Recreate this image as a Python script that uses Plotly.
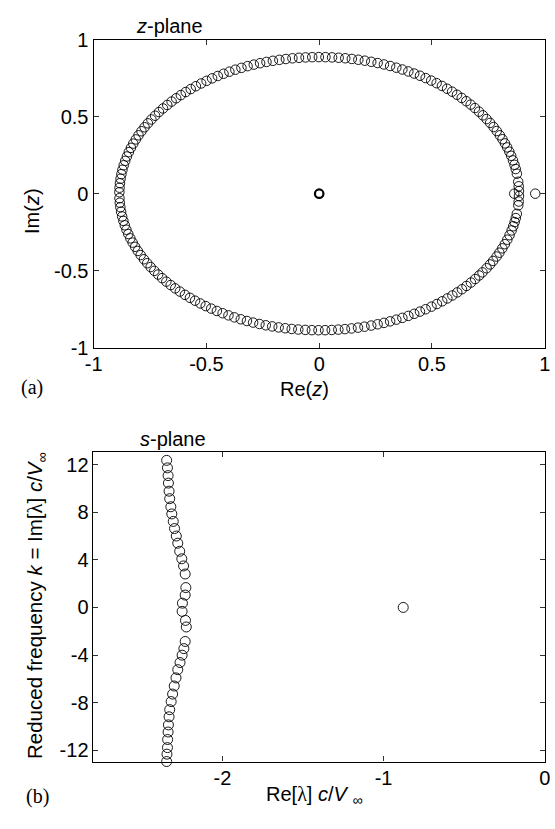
import numpy as np
import plotly.graph_objects as go

W, H = 555, 829

# ---------------- data: z-plane (polar readings) ----------------
z_ring_radius = 0.886
z_ring_arg_deg = [
    1.1, 3.1, 5.0,
    8.4, 10.4, 12.2, 14.1, 16.1, 17.9, 19.8, 21.6, 23.5, 25.3, 27.3, 29.2, 31.2, 33.1, 35.0, 36.9,
    38.8, 40.7, 42.6, 44.5, 46.4, 48.3, 50.2, 52.1, 54.0, 55.9, 57.8, 59.7, 61.6, 63.5, 65.4, 67.3,
    69.2, 71.1, 73.0, 74.9, 76.8, 78.7, 80.6, 82.5, 84.4, 86.3, 88.2, 90.1, 92.0, 93.9, 95.8, 97.7,
    99.6, 101.5, 103.4, 105.3, 107.2, 109.1, 111.0, 112.9, 114.8, 116.7, 118.6, 120.5, 122.4, 124.3,
    126.2, 128.1, 130.0, 131.9, 133.8, 135.7, 137.6, 139.5, 141.4, 143.3, 145.2, 147.1, 149.0, 150.9,
    152.8, 154.7, 156.6, 158.5, 160.4, 162.3, 164.2, 166.1, 168.0, 169.9, 171.8, 173.7, 175.6, 177.5,
    179.4,
    -1.0, -3.3, -4.9,
    -8.5, -10.3, -12.0, -13.8, -15.6, -17.7, -19.7, -21.7, -23.6, -25.6, -27.4, -29.5, -31.2, -33.1,
    -35.2, -36.8, -38.7, -40.6, -42.5, -44.4, -46.3, -48.2, -50.1, -52.0, -53.9, -55.8, -57.8, -59.7,
    -61.6, -63.5, -65.4, -67.3, -69.2, -71.1, -73.0, -74.9, -76.9, -78.8, -80.7, -82.6, -84.5, -86.4,
    -88.3, -90.2, -92.1, -94.0, -96.0, -97.9, -99.8, -101.7, -103.6, -105.5, -107.4, -109.3, -111.2,
    -113.1, -115.1, -117.0, -118.9, -120.8, -122.7, -124.6, -126.5, -128.4, -130.3, -132.2, -134.2,
    -136.1, -138.0, -139.9, -141.8, -143.7, -145.6, -147.5, -149.4, -151.3, -153.3, -155.2, -157.1,
    -159.0, -160.9, -162.8, -164.7, -166.6, -168.5, -170.4, -172.4, -174.3, -176.2, -178.1,
]
z_real_re = [0.865, 0.958]
z_real_im = [0.0, 0.0]
z_origin_re = [0.0]
z_origin_im = [0.0]

# ---------------- data: s-plane ----------------
s_re = [
    -2.346, -2.341, -2.337, -2.335, -2.331, -2.327, -2.320, -2.314, -2.305, -2.297, -2.286, -2.277,
    -2.265, -2.252, -2.241, -2.231,
    -2.227, -2.231, -2.248, -2.250, -2.229, -2.224,
    -2.231, -2.239, -2.250, -2.263, -2.277, -2.288, -2.299, -2.309, -2.318, -2.327, -2.331, -2.335,
    -2.337, -2.340, -2.341, -2.344, -2.346,
]
s_im = [
    12.36, 11.73, 11.08, 10.45, 9.77, 9.14, 8.46, 7.86, 7.23, 6.63, 6.00, 5.40, 4.72, 4.09, 3.49, 2.81,
    1.67, 1.04, 0.36, -0.33, -1.09, -1.64,
    -2.86, -3.46, -4.01, -4.63, -5.23, -5.92, -6.60, -7.28, -7.91, -8.59, -9.19, -9.87, -10.47,
    -11.10, -11.78, -12.33, -12.95,
]
s_real_re = [-0.878]
s_real_im = [0.0]

z_xticks = [-1, -0.5, 0, 0.5, 1]
z_xticklabels = ["-1", "-0.5", "0", "0.5", "1"]
z_yticks = [-1, -0.5, 0, 0.5, 1]
z_yticklabels = ["-1", "-0.5", "0", "0.5", "1"]
s_xticks = [-2, -1, 0]
s_xticklabels = ["-2", "-1", "0"]
s_yticks = [-12, -8, -4, 0, 4, 8, 12]
s_yticklabels = ["-12", "-8", "-4", "0", "4", "8", "12"]

# ---------------- figure ----------------
ang = np.deg2rad(np.array(z_ring_arg_deg))
z_re = z_ring_radius * np.cos(ang)
z_im = z_ring_radius * np.sin(ang)

SANS = "Liberation Sans, Arial, sans-serif"
SERIF = "Liberation Serif, Times New Roman, serif"
FS = 20

mk_top = dict(symbol="circle-open", size=9.5, color="black", line=dict(width=0.9, color="black"))
mk_bot = dict(symbol="circle-open", size=10, color="black", line=dict(width=0.9, color="black"))

fig = go.Figure()
fig.add_trace(go.Scatter(x=z_re, y=z_im, mode="markers", marker=mk_top, xaxis="x", yaxis="y",
                         cliponaxis=False, showlegend=False))
fig.add_trace(go.Scatter(x=z_real_re, y=z_real_im, mode="markers", marker=mk_top, xaxis="x", yaxis="y",
                         cliponaxis=False, showlegend=False))
fig.add_trace(go.Scatter(x=z_origin_re, y=z_origin_im, mode="markers",
                         marker=dict(symbol="circle-open", size=8.5, color="black",
                                     line=dict(width=2.2, color="black")),
                         xaxis="x", yaxis="y", showlegend=False))
fig.add_trace(go.Scatter(x=s_re, y=s_im, mode="markers", marker=mk_bot, xaxis="x2", yaxis="y2",
                         cliponaxis=False, showlegend=False))
fig.add_trace(go.Scatter(x=s_real_re, y=s_real_im, mode="markers", marker=mk_bot, xaxis="x2", yaxis="y2",
                         cliponaxis=False, showlegend=False))

def ax(**kw):
    d = dict(showline=True, linecolor="black", linewidth=1.3, mirror="ticks", ticks="inside",
             ticklen=5, tickwidth=1, tickcolor="#333333", showgrid=False, zeroline=False,
             ticklabeloverflow="allow",
             tickfont=dict(family=SANS, size=FS, color="black"), fixedrange=True)
    d.update(kw)
    return d

x1dom = [87 / W, 550.6 / W]
y1dom = [(H - 346) / H, (H - 29.3) / H]
x2dom = [86 / W, 550.6 / W]
y2dom = [(H - 771) / H, (H - 453.3) / H]

fig.update_layout(
    width=W, height=H, margin=dict(l=0, r=0, t=0, b=0),
    paper_bgcolor="white", plot_bgcolor="white",
    xaxis=ax(domain=x1dom, range=[-1, 1], tickvals=z_xticks, ticktext=z_xticklabels,
             anchor="y", ticklabelstandoff=-2),
    yaxis=ax(domain=y1dom, range=[-1, 1], tickvals=z_yticks, ticktext=z_yticklabels,
             anchor="x", ticklabelstandoff=0),
    xaxis2=ax(domain=x2dom, range=[-2.805, 0], tickvals=s_xticks, ticktext=s_xticklabels,
              anchor="y2", ticklabelstandoff=-2),
    yaxis2=ax(domain=y2dom, range=[-12.95, 13.04], tickvals=s_yticks, ticktext=s_yticklabels,
              anchor="x2", ticklabelstandoff=-1),
)

def ann(text, px, py, family=SANS, size=FS, angle=0):
    fig.add_annotation(text=text, x=px / W, y=1 - py / H, xref="paper", yref="paper",
                       xanchor="center", yanchor="middle", showarrow=False, textangle=angle,
                       font=dict(family=family, size=size, color="black"))

ann("<i>z</i>-plane", 165, 15)
ann("<i>s</i>-plane", 169, 440)
ann("Re(<i>z</i>)", 304, 388)
ann("Im(<i>z</i>)", 23, 205, angle=-90)
ann("(a)", 24, 387, family=SERIF)
ann("(b)", 29, 807, family=SERIF)
ann("Re[<span style=\"font-family:Liberation Serif\">λ</span>] <i>c</i>/<i>V</i> <sub>∞</sub>", 313, 806)
ann("Reduced frequency <i>k</i> = Im[<span style=\"font-family:Liberation Serif\">λ</span>] <i>c</i>/<i>V</i><sub>∞</sub>",
    28, 611, size=20.5, angle=-90)

fig.write_html("out.html")
